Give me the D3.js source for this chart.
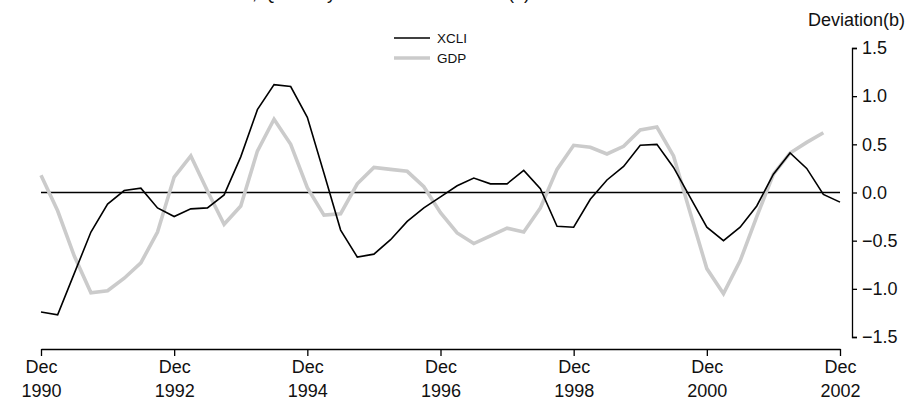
<!DOCTYPE html>
<html>
<head>
<meta charset="utf-8">
<script src="https://cdn.jsdelivr.net/npm/d3@7"></script>
<style>
  html, body { margin: 0; padding: 0; background: #fff; }
  svg { display: block; font-family: "Liberation Sans", Arial, sans-serif; }
  .tick-label { font-size: 18px; fill: #111; }
  .legend-label { font-family: "Liberation Sans Narrow", "Liberation Sans", sans-serif; font-size: 13.5px; fill: #111; }
</style>
</head>
<body>
<script>
// Quarterly series, first point is Dec quarter 1990
const START_LABEL = "Dec";
const YEAR_LABELS = ["1990", "1992", "1994", "1996", "1998", "2000", "2002"];
const Y_TICKS = [-1.5, -1.0, -0.5, 0.0, 0.5, 1.0, 1.5];

const XCLI = [
  -1.24, -1.27, -0.84, -0.41, -0.12, 0.02, 0.045, -0.16, -0.25, -0.17,
  -0.16, -0.025, 0.37, 0.86, 1.12, 1.10, 0.78, 0.20, -0.39, -0.67,
  -0.64, -0.49, -0.30, -0.16, -0.045, 0.07, 0.15, 0.09, 0.09, 0.23,
  0.04, -0.35, -0.36, -0.07, 0.13, 0.27, 0.49, 0.50, 0.26, -0.05,
  -0.36, -0.50, -0.36, -0.14, 0.19, 0.41, 0.25, -0.02, -0.10
];
const GDP = [
  0.18, -0.19, -0.66, -1.04, -1.02, -0.89, -0.73, -0.41, 0.16, 0.38,
  0.015, -0.33, -0.14, 0.43, 0.76, 0.50, 0.05, -0.235, -0.22, 0.09,
  0.26, 0.24, 0.22, 0.06, -0.21, -0.42, -0.53, -0.45, -0.37, -0.41,
  -0.16, 0.24, 0.49, 0.47, 0.40, 0.48, 0.65, 0.68, 0.38, -0.21,
  -0.79, -1.05, -0.71, -0.25, 0.19, 0.41, 0.52, 0.62
];

const W = 914, H = 403;
const svg = d3.select("body").append("svg").attr("width", W).attr("height", H);

// quarter index -> px; 48 quarters across the 12 years shown
const x = d3.scaleLinear().domain([0, 48]).range([41, 840]);
const y = d3.scaleLinear().domain([-1.5, 1.5]).range([337, 48]);

// clipped title at the very top
svg.append("text")
  .attr("x", 530).attr("y", -1.5)
  .attr("text-anchor", "end")
  .attr("class", "tick-label")
  .text("XCLI and GDP, Quarterly Deviation from Trend(a)");

// zero line
svg.append("line")
  .attr("x1", x(0)).attr("x2", x(48))
  .attr("y1", y(0)).attr("y2", y(0))
  .attr("stroke", "#000").attr("stroke-width", 1.6);

// series
const line = d3.line().x((d, i) => x(i)).y((d) => y(d));
svg.append("path").datum(GDP)
  .attr("d", line).attr("fill", "none")
  .attr("stroke", "#cbcbcb").attr("stroke-width", 3.6)
  .attr("stroke-linejoin", "miter");
svg.append("path").datum(XCLI)
  .attr("d", line).attr("fill", "none")
  .attr("stroke", "#000").attr("stroke-width", 1.6)
  .attr("stroke-linejoin", "miter");

// bottom axis
const xAx = d3.axisBottom(x)
  .tickValues(YEAR_LABELS.map((d, i) => i * 8))
  .tickSize(7).tickSizeOuter(0).tickFormat("");
const gx = svg.append("g").attr("transform", "translate(0,349)").call(xAx);
gx.select(".domain").attr("stroke", "#000").attr("stroke-width", 1.3);
gx.selectAll(".tick line").attr("stroke", "#000").attr("stroke-width", 1.3);
gx.selectAll(".tick").each(function (d, i) {
  const t = d3.select(this);
  t.append("text").attr("class", "tick-label").attr("fill", "#111")
    .attr("text-anchor", "middle").attr("y", 24).text(START_LABEL);
  t.append("text").attr("class", "tick-label").attr("fill", "#111")
    .attr("text-anchor", "middle").attr("y", 48).text(YEAR_LABELS[i]);
});

// right axis, ticks pointing outwards
const yAx = d3.axisRight(y).tickValues(Y_TICKS).tickSize(5).tickSizeOuter(5)
  .tickPadding(5).tickFormat(d3.format(".1f"));
const gy = svg.append("g").attr("transform", "translate(852,0)").call(yAx);
gy.select(".domain").attr("stroke", "#000").attr("stroke-width", 1.3);
gy.selectAll(".tick line").attr("stroke", "#000").attr("stroke-width", 1.3);
gy.selectAll(".tick text").attr("class", "tick-label")
  .attr("font-family", null).attr("font-size", null).attr("fill", "#111");

svg.append("text").attr("class", "tick-label")
  .attr("x", 905).attr("y", 26).attr("text-anchor", "end")
  .text("Deviation(b)");

// legend
const legend = [
  { name: "XCLI", color: "#000", width: 1.6 },
  { name: "GDP", color: "#cbcbcb", width: 3.6 },
];
const lg = svg.append("g").attr("transform", "translate(394,38)");
legend.forEach((d, i) => {
  lg.append("line").attr("x1", 0).attr("x2", 36)
    .attr("y1", i * 20).attr("y2", i * 20)
    .attr("stroke", d.color).attr("stroke-width", d.width);
  lg.append("text").attr("class", "legend-label")
    .attr("x", 43).attr("y", i * 20 + 5).text(d.name);
});
</script>
</body>
</html>
